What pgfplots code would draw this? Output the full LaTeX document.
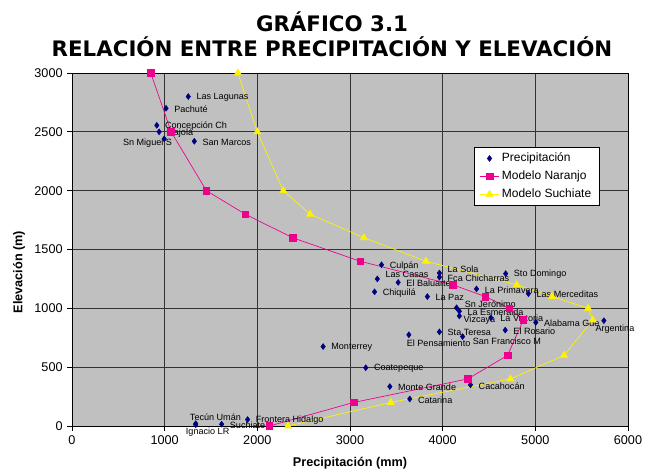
\documentclass[border=0pt]{standalone}
\usepackage{fontspec}
\setmainfont{Liberation Sans}
\newfontfamily\titlefont{DejaVu Sans}
\usepackage{pgfplots}
\pgfplotsset{compat=1.18}
\definecolor{plotgray}{RGB}{192,192,192}
\definecolor{navyblue}{RGB}{0,0,128}
\begin{document}
\begin{tikzpicture}[x=1pt,y=1pt,
  lbl/.style={font=\fontsize{6.8}{8}\selectfont,inner sep=0pt,anchor=west,xshift=6pt,yshift=-0.7pt}]
\useasboundingbox (-54,-36) rectangle (430.5,319.5);
\node[font=\titlefont\bfseries\fontsize{16}{19}\selectfont] at (195,303.5) {GRÁFICO 3.1};
\node[font=\titlefont\bfseries\fontsize{16}{19}\selectfont] at (195,284.5) {RELACIÓN ENTRE PRECIPITACIÓN Y ELEVACIÓN};
\begin{axis}[at={(0,0)},anchor=south west,scale only axis,width=417pt,height=264.75pt,
  xmin=0,xmax=6000,ymin=0,ymax=3000,
  xtick={0,1000,...,6000},ytick={0,500,...,3000},
  grid=major,grid style={black!80,line width=0.5pt},
  axis background/.style={fill=plotgray},
  axis line style={black,line width=0.6pt},
  tick align=outside,xtick pos=bottom,ytick pos=left,
  major tick length=3.5pt,tick style={black,line width=0.6pt},
  ticklabel style={font=\fontsize{9.5}{11}\selectfont},
  /pgf/number format/assume math mode=true,/pgf/number format/1000 sep={},
  xlabel={\bfseries Precipitación (mm)},ylabel={\bfseries Elevación (m)},
  label style={font=\fontsize{9.5}{11}\selectfont},
  xlabel style={at={(rel axis cs:0.5,0)},anchor=center,yshift=-27.75pt},
  ylabel style={at={(rel axis cs:0,0.436)},anchor=center,yshift=39.75pt},
  clip=false,
  legend style={at={(rel axis cs:0.7235,0.791)},anchor=north west,draw=black,fill=white,
    font=\fontsize{9}{11}\selectfont,row sep=1.4pt,inner xsep=4pt,inner ysep=2.5pt},
  legend cell align=left,
  legend image code/.code={\draw[mark repeat=2,mark phase=2,#1] plot coordinates {(0pt,0pt) (7pt,0pt) (14pt,0pt)};},
]
\addplot[only marks,mark=diamond*,mark size=2.2pt,color=navyblue] coordinates {
(1255,2800) (1015,2700) (915,2555) (940,2500) (995,2440) (1320,2420)
(3340,1370) (3295,1250) (3520,1220) (3265,1140) (3835,1100) (3965,1300) (3965,1265)
(4680,1295) (4365,1165) (4925,1125) (4150,1005) (4180,975) (4180,935) (4520,920)
(5005,880) (5740,895) (4675,815) (4215,760) (3965,800) (3635,775) (2710,675)
(3170,495) (3430,335) (4300,350) (3645,230) (1895,55) (1615,15) (1335,20) (1335,10)
};
\addlegendentry{Precipitación}
\addplot[magenta,line width=0.5pt,mark=square*,mark size=2.5pt,mark options={fill=magenta}] coordinates {
(850,3000) (1070,2500) (1450,2000) (1870,1800) (2380,1600) (3110,1400) (4110,1200)
(4460,1100) (4720,1000) (4870,900) (4700,600) (4270,400) (3040,200) (2130,0)
};
\addlegendentry{Modelo Naranjo}
\addplot[yellow,line width=0.5pt,mark=triangle*,mark size=3pt,mark options={fill=yellow}] coordinates {
(1790,3000) (2000,2500) (2280,2000) (2570,1800) (3150,1600) (3820,1400) (4800,1200)
(5180,1100) (5570,1000) (5620,900) (5310,600) (4730,400) (3440,200) (2330,0)
};
\addlegendentry{Modelo Suchiate}
\node[lbl] at (axis cs:1255,2800) {Las Lagunas};
\node[lbl] at (axis cs:1015,2700) {Pachuté};
\node[lbl] at (axis cs:915,2555) {Concepción Ch};
\node[lbl] at (axis cs:940,2500) {Cajolá};
\node[lbl,anchor=east,yshift=-2.5pt] at (axis cs:995,2440) {Sn Miguel S};
\node[lbl] at (axis cs:1320,2420) {San Marcos};
\node[lbl] at (axis cs:3340,1370) {Culpán};
\node[lbl,yshift=3.9pt] at (axis cs:3295,1250) {Las Casas};
\node[lbl] at (axis cs:3520,1220) {El Baluarte};
\node[lbl] at (axis cs:3265,1140) {Chiquilá};
\node[lbl] at (axis cs:3835,1100) {La Paz};
\node[lbl,yshift=3.2pt] at (axis cs:3965,1300) {La Sola};
\node[lbl] at (axis cs:3965,1265) {Fca Chicharras};
\node[lbl] at (axis cs:4680,1295) {Sto Domingo};
\node[lbl] at (axis cs:4365,1165) {La Primavera};
\node[lbl] at (axis cs:4925,1125) {Las Merceditas};
\node[lbl,yshift=3.5pt] at (axis cs:4150,1005) {Sn Jerónimo};
\node[lbl] at (axis cs:4180,975) {La Esmeralda};
\node[lbl,xshift=-3pt,yshift=-2.3pt] at (axis cs:4180,935) {Vizcaya};
\node[lbl,xshift=1pt] at (axis cs:4520,920) {La Victoria};
\node[lbl] at (axis cs:5005,880) {Alabama Gde};
\node[lbl,xshift=-12.5pt,yshift=-5.5pt] at (axis cs:5740,895) {Argentina};
\node[lbl] at (axis cs:4675,815) {El Rosario};
\node[lbl,xshift=1.5pt,yshift=-2.5pt] at (axis cs:4215,760) {San Francisco M};
\node[lbl] at (axis cs:3965,800) {Sta Teresa};
\node[lbl,xshift=-7.7pt,yshift=-6pt] at (axis cs:3635,775) {El Pensamiento};
\node[lbl] at (axis cs:2710,675) {Monterrey};
\node[lbl] at (axis cs:3170,495) {Coatepeque};
\node[lbl] at (axis cs:3430,335) {Monte Grande};
\node[lbl] at (axis cs:4300,350) {Cacahocán};
\node[lbl] at (axis cs:3645,230) {Catarina};
\node[lbl] at (axis cs:1895,55) {Frontera Hidalgo};
\node[lbl] at (axis cs:1615,15) {Suchiate};
\node[lbl,xshift=-10.5pt,yshift=5.5pt] at (axis cs:1335,20) {Tecún Umán};
\node[lbl,xshift=-13.5pt,yshift=-4.5pt] at (axis cs:1335,10) {Ignacio LR};
\end{axis}
\end{tikzpicture}
\end{document}
